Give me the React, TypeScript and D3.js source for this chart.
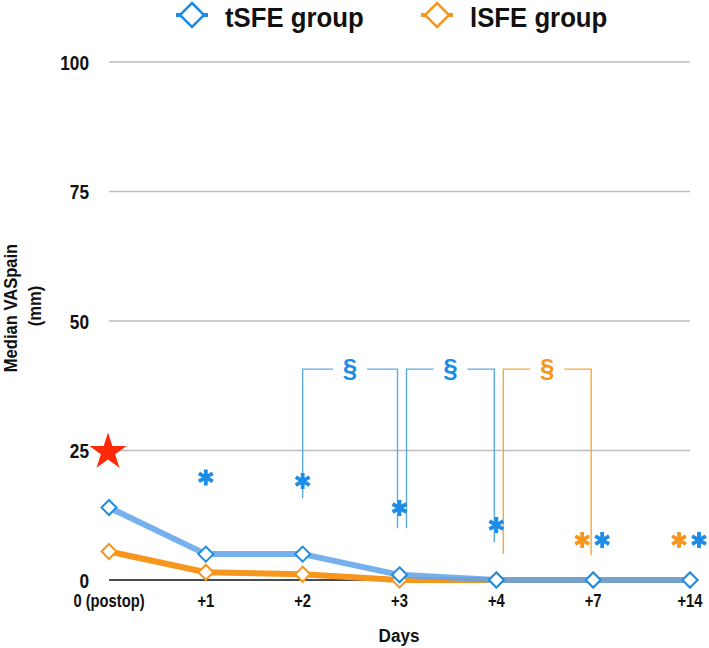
import React from "react";
import * as d3 from "d3";

const categories = ["0 (postop)", "+1", "+2", "+3", "+4", "+7", "+14"];
const tSFE = [14, 5, 5, 1, 0, 0, 0];
const lSFE = [5.5, 1.5, 1.1, 0, 0, 0, 0];
const yTicks = [0, 25, 50, 75, 100];
// significance asterisks: category, value, group
const asteriskCats = ["+1", "+2", "+3", "+4", "+7", "+7", "+14", "+14"];
const asteriskVals = [19.8, 19.1, 13.9, 10.6, 7.7, 7.7, 7.7, 7.7];
const asteriskGroup = ["t", "t", "t", "t", "l", "t", "l", "t"];
// brackets (§): from category, to category, group, top value, left foot value, right foot value
const bracketFrom = ["+2", "+3", "+4"];
const bracketTo = ["+3", "+4", "+7"];
const bracketGroup = ["t", "t", "l"];
const bracketTop = [40.7, 40.7, 40.7];
const bracketLeftFoot = [15.8, 10, 5];
const bracketRightFoot = [10, 7.3, 4.8];
// red star marker
const starCat = "0 (postop)";
const starVal = 25;

const BLUE_LINE = "#5ea3ea";
const BLUE = "#1c8ce6";
const ORANGE = "#f7961c";
const ORANGE_LIGHT = "#f6a83a";
const BLUE_LIGHT = "#5aaae8";

const W = 709;
const H = 648;

const font = "'Liberation Sans', Arial, sans-serif";

function CText(props: {
  x: number;
  y: number;
  sx?: number;
  size: number;
  anchor?: string;
  fill?: string;
  rotate?: number;
  children: React.ReactNode;
}) {
  const { x, y, sx = 0.82, size, anchor = "middle", fill = "#111", rotate = 0 } = props;
  return (
    <g transform={`translate(${x},${y}) rotate(${rotate}) scale(${sx},1)`}>
      <text x={0} y={0} textAnchor={anchor} fontFamily={font} fontWeight="bold" fontSize={size} fill={fill}>
        {props.children}
      </text>
    </g>
  );
}

export default function App() {
  const x = d3.scalePoint<string>().domain(categories).range([109, 690]).padding(0);
  const y = d3.scaleLinear().domain([0, 100]).range([580, 62]);
  const line = d3
    .line<number>()
    .x((_, i) => x(categories[i]) as number)
    .y((d) => y(d));

  const diamond = (cx: number, cy: number, r: number) =>
    `M${cx},${cy - r}L${cx + r},${cy}L${cx},${cy + r}L${cx - r},${cy}Z`;

  const asterisk = (cx: number, cy: number, r: number) => {
    const parts: string[] = [];
    for (let k = 0; k < 3; k++) {
      const a = (Math.PI / 3) * k + Math.PI / 2;
      const dx = Math.cos(a) * r;
      const dy = Math.sin(a) * r;
      parts.push(`M${cx - dx},${cy - dy}L${cx + dx},${cy + dy}`);
    }
    return parts.join("");
  };

  const star = d3.symbol(d3.symbolStar, 430)() as string;

  const astOffset = (i: number) => {
    const cat = asteriskCats[i];
    const dup = asteriskCats.filter((c) => c === cat).length > 1;
    if (!dup) return 0;
    return asteriskGroup[i] === "l" ? -11 : 9;
  };

  return (
    <svg width={W} height={H} style={{ display: "block", position: "absolute", left: 0, top: 0 }}>
      <rect width={W} height={H} fill="#fff" />
      {/* gridlines */}
      {yTicks.map((t) => (
        <line
          key={t}
          x1={109}
          x2={690}
          y1={y(t)}
          y2={y(t)}
          stroke={t === 0 ? "#111" : "#bdbdbd"}
          strokeWidth={1.5}
        />
      ))}
      {/* y tick labels */}
      {yTicks.map((t) => (
        <CText key={"l" + t} x={89} y={y(t) + 7.5} size={21} anchor="end">
          {t}
        </CText>
      ))}
      {/* x tick labels */}
      {categories.map((c) => (
        <CText key={c} x={x(c) as number} y={607} size={18}>
          {c}
        </CText>
      ))}
      <CText x={399} y={642} size={19} sx={0.9}>
        Days
      </CText>
      <CText x={17} y={308} size={18} sx={0.92} rotate={-90}>
        Median VASpain
      </CText>
      <CText x={41} y={306} size={18} sx={0.92} rotate={-90}>
        (mm)
      </CText>

      {/* brackets */}
      {bracketFrom.map((f, i) => {
        const col = bracketGroup[i] === "t" ? BLUE_LIGHT : ORANGE_LIGHT;
        const txtCol = bracketGroup[i] === "t" ? BLUE : ORANGE;
        const x1 = (x(f) as number) + (i === 0 ? 0 : 7);
        const x2 = (x(bracketTo[i]) as number) - 2;
        const yt = y(bracketTop[i]);
        const mid = (x1 + x2) / 2;
        const gap = 17;
        return (
          <g key={"b" + i}>
            <path
              d={`M${x1},${y(bracketLeftFoot[i])}V${yt}H${mid - gap}M${mid + gap},${yt}H${x2}V${y(bracketRightFoot[i])}`}
              fill="none"
              stroke={col}
              strokeWidth={1.4}
            />
            <text
              x={mid}
              y={yt + 8}
              textAnchor="middle"
              fontFamily={font}
              fontWeight="bold"
              fontSize={26}
              fill={txtCol}
            >
              §
            </text>
          </g>
        );
      })}

      {/* lines */}
      <path d={line(lSFE) as string} fill="none" stroke={ORANGE} strokeWidth={6} strokeLinejoin="round" />
      {lSFE.map((v, i) => (
        <path
          key={"lo" + i}
          d={diamond(x(categories[i]) as number, y(v), 7.5)}
          fill="#fff"
          stroke={ORANGE}
          strokeWidth={2}
        />
      ))}
      <path
        d={line(tSFE) as string}
        fill="none"
        stroke={BLUE_LINE}
        strokeWidth={6}
        strokeLinejoin="round"
        opacity={0.85}
      />
      {tSFE.map((v, i) => (
        <path
          key={"bt" + i}
          d={diamond(x(categories[i]) as number, y(v), 7.5)}
          fill="#fff"
          stroke={BLUE}
          strokeWidth={2}
        />
      ))}

      {/* star */}
      <path d={star} transform={`translate(${x(starCat) as number - 1},${y(starVal) + 1.5})`} fill="#ff2a0a" />

      {/* asterisks */}
      {asteriskCats.map((c, i) => (
        <path
          key={"a" + i}
          d={asterisk((x(c) as number) + astOffset(i), y(asteriskVals[i]), 8)}
          stroke={asteriskGroup[i] === "t" ? BLUE : ORANGE}
          strokeWidth={3.8}
          fill="none"
        />
      ))}

      {/* legend */}
      {[
        { cx: 192, col: BLUE, label: "tSFE group", tx: 225 },
        { cx: 437, col: ORANGE, label: "lSFE group", tx: 470 },
      ].map((l) => (
        <g key={l.label}>
          <line x1={l.cx - 16} x2={l.cx + 16} y1={15} y2={15} stroke={l.col} strokeWidth={4} />
          <path d={diamond(l.cx, 15, 12)} fill="#fff" stroke={l.col} strokeWidth={2.5} />
          <CText x={l.tx} y={27} size={28} sx={0.92} anchor="start">
            {l.label}
          </CText>
        </g>
      ))}
    </svg>
  );
}
